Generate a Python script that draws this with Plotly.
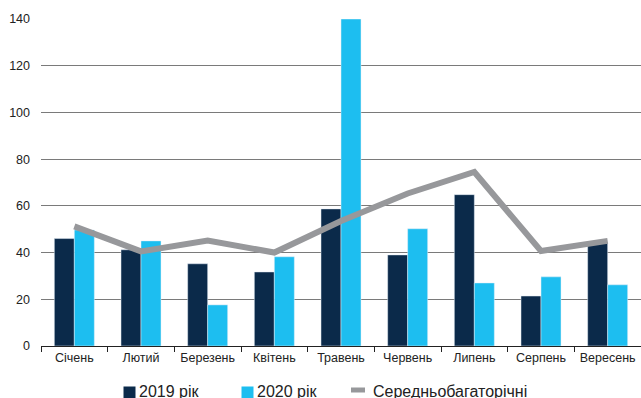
import plotly.graph_objects as go

months = ["Січень", "Лютий", "Березень", "Квітень", "Травень", "Червень", "Липень", "Серпень", "Вересень"]
y2019 = [46, 41.2, 35.2, 31.7, 58.7, 39, 64.8, 21.4, 44.2]
y2020 = [49.7, 45, 17.6, 38.2, 140, 50.2, 27, 29.6, 26.2]
avg = [51.2, 40.5, 45.2, 40, 53.5, 65.3, 74.5, 40.7, 45]
yticks = [0, 20, 40, 60, 80, 100, 120, 140]
names = ["2019 рік", "2020 рік", "Середньобагаторічні"]
colors = ["#0b2a4a", "#1dbef0", "#97989b"]

W, H = 641, 398
ML, MR, MT, MB = 41, 0, 19, 52
PW, PH = W - ML - MR, H - MT - MB

def px(x):
    return (x - ML) / PW

def py(y):
    return (H - MB - y) / PH

fig = go.Figure()
fig.add_trace(go.Bar(x=months, y=y2019, name=names[0], marker_color=colors[0]))
fig.add_trace(go.Bar(x=months, y=y2020, name=names[1], marker_color=colors[1]))
fig.add_trace(go.Scatter(x=months, y=avg, name=names[2], mode="lines",
                         line=dict(color=colors[2], width=6)))

# legend drawn manually (compact spacing like the reference)
shapes = []
annotations = []
leg_y = 391.5
items = [(123.5, 138, "sq"), (241.5, 255.5, "sq"), (348, 371.5, "ln")]
for (sx, tx, kind), name, col in zip(items, names, colors):
    if kind == "sq":
        shapes.append(dict(type="rect", xref="paper", yref="paper",
                           x0=px(sx), x1=px(sx + 12), y0=py(leg_y - 5), y1=py(leg_y + 7),
                           fillcolor=col, line=dict(width=0)))
    else:
        shapes.append(dict(type="line", xref="paper", yref="paper",
                           x0=px(sx + 3), x1=px(sx + 17), y0=py(leg_y - 1.5), y1=py(leg_y - 1.5),
                           line=dict(color=col, width=5)))
    annotations.append(dict(text=name, xref="paper", yref="paper", x=px(tx), y=py(leg_y),
                            xanchor="left", yanchor="middle", showarrow=False,
                            font=dict(size=16, color="#222"), borderpad=0))

fig.update_layout(
    width=W, height=H,
    margin=dict(l=ML, r=MR, t=MT, b=MB, autoexpand=False),
    paper_bgcolor="white", plot_bgcolor="white",
    barmode="group", bargap=0.4, bargroupgap=0,
    font=dict(family="Liberation Sans, Arial, sans-serif", size=12, color="#222"),
    showlegend=False,
    shapes=shapes, annotations=annotations,
)
fig.update_xaxes(showgrid=False, ticks="outside", tickson="boundaries", ticklen=5,
                 tickcolor="#222", showline=True, linecolor="#222", linewidth=1,
                 automargin=False, tickfont=dict(size=12.5, color="#222"))
fig.update_yaxes(range=[0, 140], tickvals=yticks, showgrid=True, gridcolor="#7a7a7a",
                 gridwidth=1, zeroline=False, showline=False, ticks="",
                 automargin=False, ticklabelstandoff=10, tickfont=dict(size=12.5, color="#222"))

fig.write_html("out.html")
